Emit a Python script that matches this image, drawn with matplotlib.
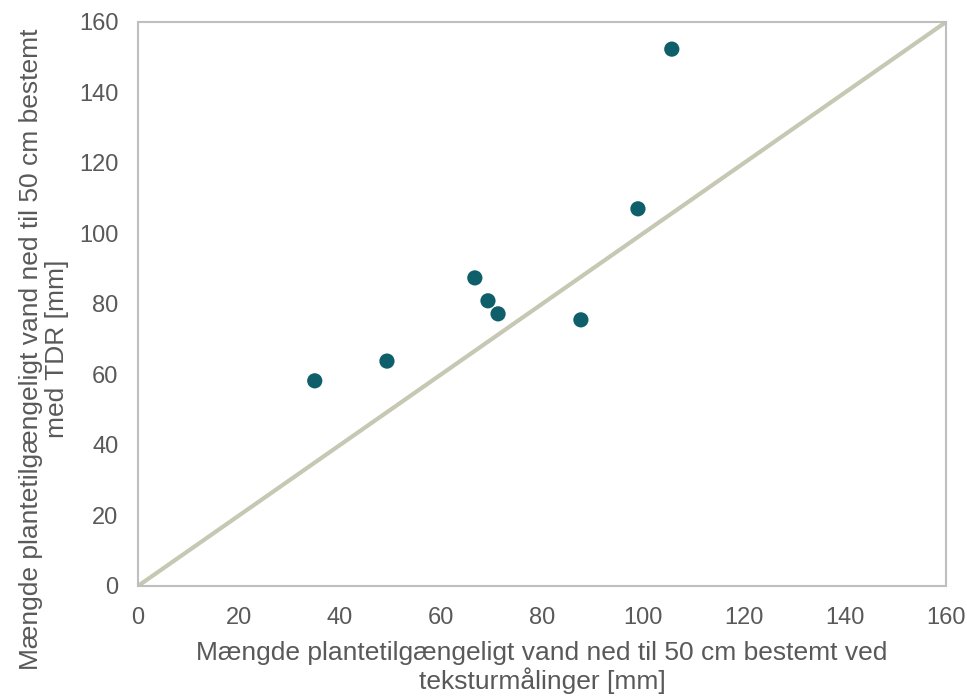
import matplotlib
matplotlib.use("Agg")
import matplotlib.pyplot as plt

# teksturmålinger (x) og TDR (y), mm
tekstur = [35.0, 49.3, 66.7, 69.3, 71.3, 87.7, 99.0, 105.7]
tdr = [58.2, 63.8, 87.4, 80.9, 77.2, 75.5, 107.0, 152.3]
linje = [0, 160]

plt.rcParams['font.family'] = ['Liberation Sans', 'DejaVu Sans']

fig = plt.figure(figsize=(9.67, 6.98), dpi=100)
ax = fig.add_axes([0.1427, 0.1605, 0.8356, 0.808])

ax.plot(linje, linje, color='#c6c8b3', lw=3, zorder=2)
ax.scatter(tekstur, tdr, s=120, color='#0f5f6b', zorder=3, edgecolors='none')

ax.set_xlim(0, 160)
ax.set_ylim(0, 160)
ax.set_xticks(range(0, 161, 20))
ax.set_yticks(range(0, 161, 20))
ax.tick_params(length=0, labelsize=17, colors='#595959')
ax.tick_params(axis='x', pad=15)
ax.tick_params(axis='y', pad=14)
for s in ax.spines.values():
    s.set_color('#bfbfbf')
    s.set_linewidth(1.5)

ax.set_xlabel('Mængde plantetilgængeligt vand ned til 50 cm bestemt ved\nteksturmålinger [mm]',
              fontsize=19, color='#595959', labelpad=9, linespacing=1.1)
ax.set_ylabel('Mængde plantetilgængeligt vand ned til 50 cm bestemt\nmed TDR [mm]',
              fontsize=19, color='#595959', linespacing=1.1)
ax.yaxis.set_label_coords(-0.085, 0.42)

fig.savefig('out.png', dpi=100)
